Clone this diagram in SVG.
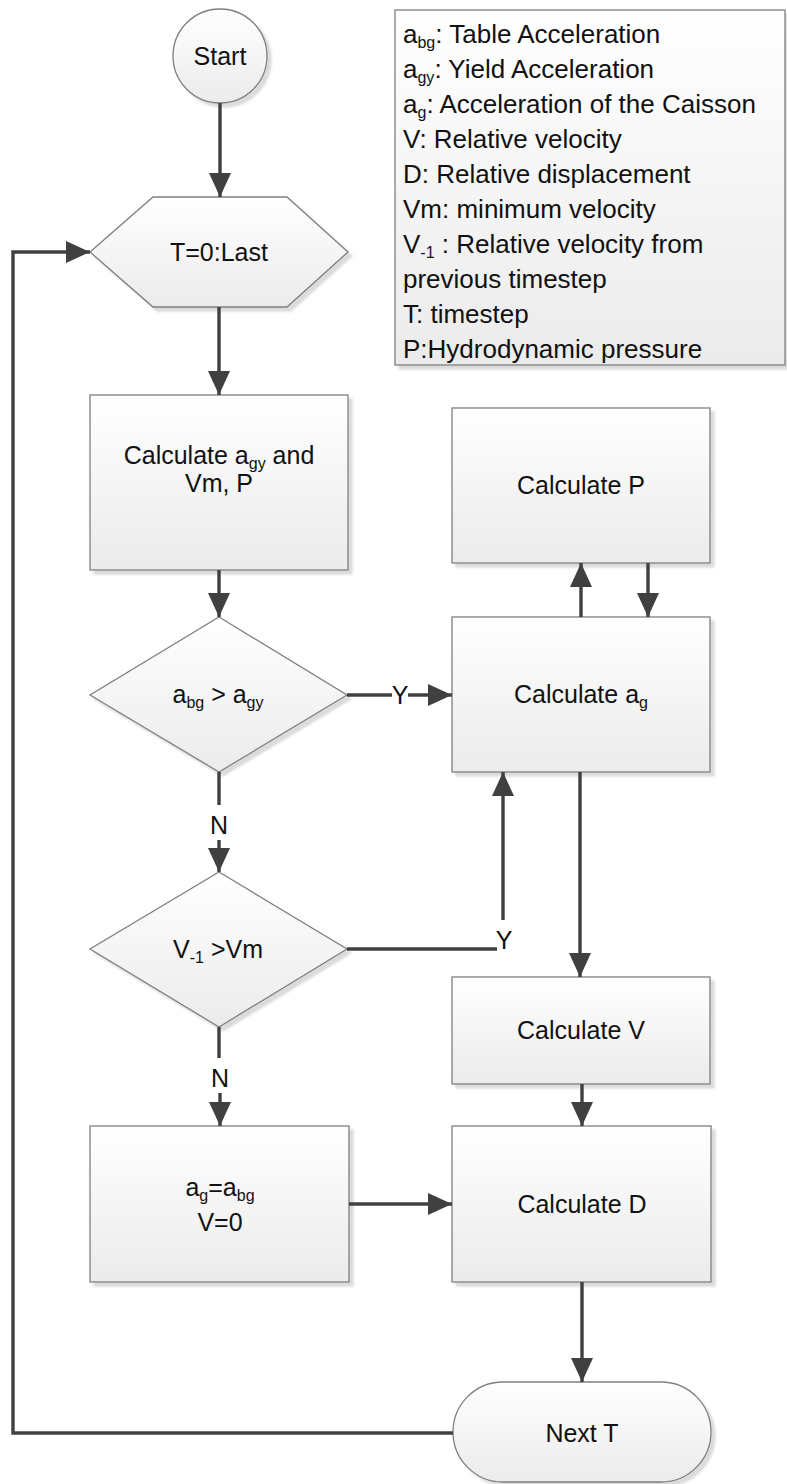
<svg xmlns="http://www.w3.org/2000/svg" width="787" height="1484" viewBox="0 0 787 1484">
<style>
.shape{fill:url(#g);stroke:#7f7f7f;stroke-width:1.3;filter:url(#sh)}
.t{font-family:"Liberation Sans",Arial,sans-serif;font-size:25px;fill:#111;text-anchor:middle}
.lg{font-family:"Liberation Sans",Arial,sans-serif;font-size:26px;fill:#111}
.s{font-size:16px}
.c{fill:none;stroke:#404040;stroke-width:3.4}
.a{marker-end:url(#ar)}
</style>
<defs>
<linearGradient id="g" x1="0" y1="0" x2="0" y2="1">
<stop offset="0" stop-color="#ffffff"/>
<stop offset="1" stop-color="#ebebeb"/>
</linearGradient>
<filter id="sh" x="-10%" y="-10%" width="130%" height="130%">
<feDropShadow dx="4" dy="4" stdDeviation="1.2" flood-color="#000" flood-opacity="0.14"/>
</filter>
<marker id="ar" viewBox="0 0 24 22" refX="24" refY="11" markerWidth="24" markerHeight="22" markerUnits="userSpaceOnUse" orient="auto">
<path d="M0,0 L24,11 L0,22 Z" fill="#404040"/>
</marker>
</defs>

<g id="legend">
<rect class="shape" x="395" y="10" width="390" height="355"/>
<text class="lg" x="403" y="43">a<tspan class="s" dy="5">bg</tspan><tspan dy="-5">: Table Acceleration</tspan></text>
<text class="lg" x="403" y="78">a<tspan class="s" dy="5">gy</tspan><tspan dy="-5">: Yield Acceleration</tspan></text>
<text class="lg" x="403" y="113">a<tspan class="s" dy="5">g</tspan><tspan dy="-5">: Acceleration of the Caisson</tspan></text>
<text class="lg" x="403" y="148">V: Relative velocity</text>
<text class="lg" x="403" y="183">D: Relative displacement</text>
<text class="lg" x="403" y="218">Vm: minimum velocity</text>
<text class="lg" x="403" y="253">V<tspan class="s" dy="5">-1</tspan><tspan dy="-5"> : Relative velocity from</tspan></text>
<text class="lg" x="403" y="288">previous timestep</text>
<text class="lg" x="403" y="323">T: timestep</text>
<text class="lg" x="403" y="358">P:Hydrodynamic pressure</text>
</g>

<g id="start">
<circle class="shape" cx="220" cy="56" r="47"/>
<text class="t" x="220" y="65">Start</text>
</g>

<g id="loop">
<polygon class="shape" points="153,197 287,197 348,252 287,307 153,307 90,252"/>
<text class="t" x="219" y="261">T=0:Last</text>
</g>

<g id="calc-agy">
<rect class="shape" x="90" y="395" width="258" height="175"/>
<text class="t" x="219" y="464">Calculate a<tspan class="s" dy="5">gy</tspan><tspan dy="-5"> and</tspan></text>
<text class="t" x="219" y="492">Vm, P</text>
</g>

<g id="dec1">
<polygon class="shape" points="219,617 347,695 219,772 90,695"/>
<text class="t" x="218" y="703">a<tspan class="s" dy="5">bg</tspan><tspan dy="-5"> &gt; a</tspan><tspan class="s" dy="5">gy</tspan></text>
</g>

<g id="calc-p">
<rect class="shape" x="452" y="408" width="258" height="155"/>
<text class="t" x="581" y="494">Calculate P</text>
</g>

<g id="calc-ag">
<rect class="shape" x="452" y="617" width="258" height="155"/>
<text class="t" x="581" y="703">Calculate a<tspan class="s" dy="5">g</tspan></text>
</g>

<g id="dec2">
<polygon class="shape" points="219,872 347,949 219,1027 90,949"/>
<text class="t" x="218" y="958">V<tspan class="s" dy="5">-1</tspan><tspan dy="-5"> &gt;Vm</tspan></text>
</g>

<g id="calc-v">
<rect class="shape" x="452" y="977" width="258" height="107"/>
<text class="t" x="581" y="1039">Calculate V</text>
</g>

<g id="set-ag">
<rect class="shape" x="90" y="1126" width="259" height="156"/>
<text class="t" x="220" y="1196">a<tspan class="s" dy="5">g</tspan><tspan dy="-5">=a</tspan><tspan class="s" dy="5">bg</tspan></text>
<text class="t" x="220" y="1231">V=0</text>
</g>

<g id="calc-d">
<rect class="shape" x="452" y="1126" width="259" height="156"/>
<text class="t" x="582" y="1213">Calculate D</text>
</g>

<g id="next">
<rect class="shape" x="453" y="1382" width="258" height="100" rx="50" ry="50"/>
<text class="t" x="582" y="1442">Next T</text>
</g>

<g id="connectors">
<line class="c a" x1="220" y1="103" x2="220" y2="197"/>
<line class="c a" x1="219" y1="307" x2="219" y2="395"/>
<line class="c a" x1="219" y1="570" x2="219" y2="617"/>
<line class="c" x1="347" y1="695" x2="392" y2="695"/>
<line class="c a" x1="408" y1="695" x2="452" y2="695"/>
<text class="t" x="400" y="704">Y</text>
<line class="c a" x1="581" y1="617" x2="581" y2="563"/>
<line class="c a" x1="648" y1="563" x2="648" y2="617"/>
<line class="c" x1="219" y1="772" x2="219" y2="805"/>
<text class="t" x="219" y="834">N</text>
<line class="c a" x1="219" y1="840" x2="219" y2="872"/>
<polyline class="c" points="347,949 497,949"/>
<text class="t" x="504" y="949">Y</text>
<line class="c a" x1="503" y1="920" x2="503" y2="772"/>
<line class="c a" x1="580" y1="772" x2="580" y2="977"/>
<line class="c" x1="219" y1="1027" x2="219" y2="1058"/>
<text class="t" x="220" y="1087">N</text>
<line class="c a" x1="220" y1="1093" x2="220" y2="1126"/>
<line class="c a" x1="582" y1="1084" x2="582" y2="1126"/>
<line class="c a" x1="349" y1="1204" x2="452" y2="1204"/>
<line class="c a" x1="582" y1="1282" x2="582" y2="1382"/>
<polyline class="c a" points="453,1433 13,1433 13,252 90,252"/>
</g>
</svg>
